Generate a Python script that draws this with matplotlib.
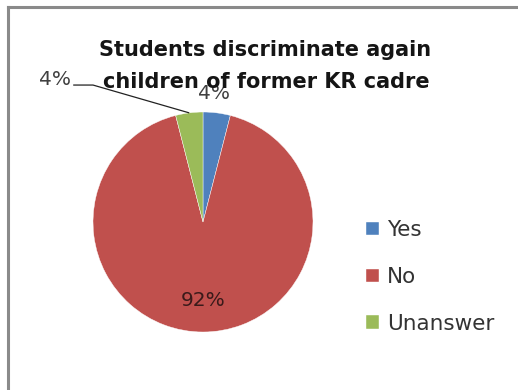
import numpy as np
import matplotlib
matplotlib.use("Agg")
import matplotlib.pyplot as plt
from matplotlib.lines import Line2D

categories = ["Yes", "No", "Unanswer"]
shares = [4, 92, 4]
colors = ["#4F81BD", "#C0504D", "#9BBB59"]
title_lines = ["Students discriminate again", "children of former KR cadre"]

plt.rcParams["font.family"] = ["DejaVu Sans"]

W, H = 518, 390
fig = plt.figure(figsize=(W / 100, H / 100), dpi=100)
fig.patch.set_facecolor("white")

# chart area frame (top and left edges visible)
fig.add_artist(Line2D([8 / W, 1], [1 - 7 / H, 1 - 7 / H], color="#8a8a8a", lw=2.2,
                      transform=fig.transFigure))
fig.add_artist(Line2D([8 / W, 8 / W], [0, 1 - 7 / H], color="#8a8a8a", lw=2.2,
                      transform=fig.transFigure))

cx, cy, r = 203, 222, 110
ax = fig.add_axes([(cx - r) / W, (H - cy - r) / H, 2 * r / W, 2 * r / H])
wedges, _ = ax.pie(shares, colors=colors, startangle=90, counterclock=False,
                   radius=1.0, wedgeprops=dict(edgecolor="white", linewidth=0.3))
ax.set_xlim(-1, 1)
ax.set_ylim(-1, 1)
ax.set_aspect("equal")
ax.axis("off")

total = sum(shares)
mids = []
start = 90.0
for s in shares:
    span = 360.0 * s / total
    mids.append(np.deg2rad(start - span / 2.0))
    start -= span

# title, drawn first so the slice labels sit on top of it
fig.text(265 / W, 1 - 50 / H, title_lines[0], ha="center", va="center", fontsize=15,
         fontweight="bold", color="#151515")
fig.text(266 / W, 1 - 82 / H, title_lines[1], ha="center", va="center", fontsize=15,
         fontweight="bold", color="#151515")

# Yes label just outside its slice
ax.text(1.15 * np.cos(mids[0]) - 0.04, 1.18 * np.sin(mids[0]), f"{shares[0]}%",
        ha="center", va="center", fontsize=14.5, color="#404040", clip_on=False)

# No label inside the slice
ax.text(0.71 * np.cos(mids[1]), 0.71 * np.sin(mids[1]), f"{shares[1]}%", ha="center",
        va="center", fontsize=14.5, color="#3a1a1a", clip_on=False)

# Unanswer label with a leader line to the slice edge
lx, ly = -1.35, 1.295
ax.text(lx, ly, f"{shares[2]}%", ha="center", va="center", fontsize=14.5,
        color="#404040", clip_on=False)
ex, ey = np.cos(mids[2]), np.sin(mids[2])
ax.plot([-1.18, -1.0, ex], [1.245, 1.245, ey], color="#222222", lw=0.9,
        clip_on=False, solid_capstyle="butt")

fig.legend(wedges, categories, loc="center left", bbox_to_anchor=(366 / W, 1 - 277 / H),
           frameon=False, fontsize=15.5, labelcolor="#333333", handlelength=0.6,
           handleheight=0.6, handletextpad=0.36, labelspacing=1.25, borderpad=0,
           borderaxespad=0)

fig.savefig("out.png", dpi=100, facecolor="white")
